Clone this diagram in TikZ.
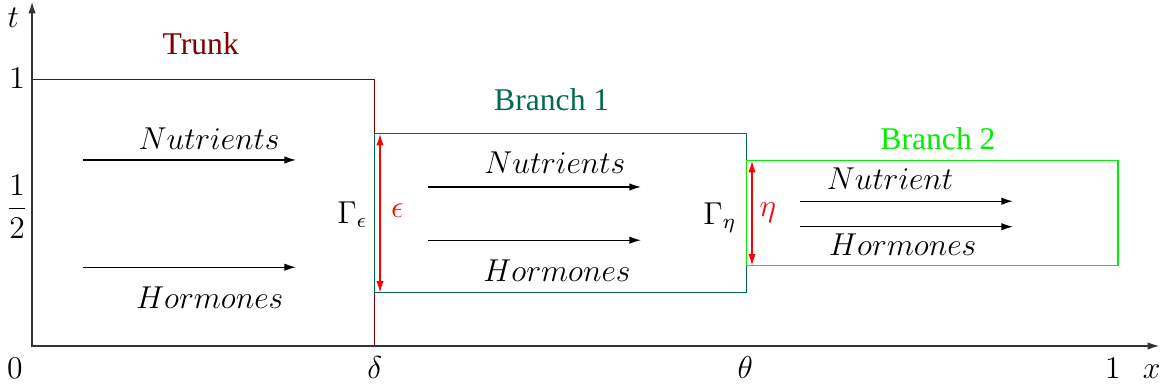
\documentclass[tikz,border=0pt,12pt]{standalone}
\usepackage{amsmath,amssymb}
\usepackage{fontspec}
\setmainfont{Liberation Serif}
\usetikzlibrary{arrows.meta}
\definecolor{trunkcol}{HTML}{800000}
\definecolor{branchonecol}{HTML}{006B4F}
\definecolor{branchtwocol}{HTML}{00F000}
\tikzset{
  region/.style={draw=#1, line width=0.5pt},
  flow/.style={-{Latex[length=4.4pt,width=2.8pt]}, line width=0.5pt, black}}

\begin{document}
\begin{tikzpicture}[
      gap/.style={{Latex[length=4.4pt,width=2.8pt]}-{Latex[length=4.4pt,width=2.8pt]},
        line width=0.6pt, red},
      axis/.style={-{Latex[length=4.4pt,width=2.8pt]}, line width=0.5pt, black!80}]
      \useasboundingbox (-0.427,-0.56) rectangle (15.08,4.613);
      % regions
      \draw[region=trunkcol] (0,0) rectangle (4.57,3.55);
      \draw[region=branchonecol] (4.57,0.71) rectangle (9.53,2.83);
      \draw[region=branchtwocol] (9.53,1.07) rectangle (14.48,2.47);
      % axes
      \coordinate (o) at (0,0);
      \coordinate (xend) at (15.03,0);
      \coordinate (tend) at (0,4.59);
      \draw[axis] (o) -- (xend);
      \draw[axis] (o) -- (tend);
      \node (tl) at (-0.25,4.37) {$t$};
      \node (one) at (-0.2,3.57) {$1$};
      \node (half) at (-0.2,1.86) {$\dfrac{1}{2}$};
      \node[anchor=base] (zero) at (-0.23,-0.43) {$0$};
      \node[anchor=base] (delta) at (4.57,-0.43) {$\delta$};
      \node[anchor=base] (theta) at (9.51,-0.43) {$\theta$};
      \node[anchor=base] (xone) at (14.41,-0.43) {$1$};
      \node[anchor=base] (xl) at (14.93,-0.43) {$x$};
      % titles
      \node[text=trunkcol] (trunk) at (2.25,4.03) {Trunk};
      \node[text=branchonecol] (bone) at (6.93,3.28) {Branch 1};
      \node[text=branchtwocol] (btwo) at (12.08,2.77) {Branch 2};
      % interfaces
      \coordinate (eb) at (4.64,0.71);
      \coordinate (et) at (4.64,2.83);
      \draw[gap] (eb) -- (et);
      \node (ge) at (4.27,1.75) {$\Gamma_\epsilon$};
      \node[text=red] (eps) at (4.87,1.81) {$\epsilon$};
      \coordinate (hb) at (9.6,1.07);
      \coordinate (ht) at (9.6,2.47);
      \draw[gap] (hb) -- (ht);
      \node (gh) at (9.17,1.71) {$\Gamma_\eta$};
      \node[text=red] (eta) at (9.81,1.77) {$\eta$};
      % flows in the trunk
      \coordinate (tna) at (0.68,2.48);
      \coordinate (tnb) at (3.52,2.48);
      \coordinate (tha) at (0.68,1.05);
      \coordinate (thb) at (3.52,1.05);
      \draw[flow] (tna) -- (tnb);
      \draw[flow] (tha) -- (thb);
      \node (tnut) at (2.36,2.77) {$Nutrients$};
      \node (thor) at (2.37,0.65) {$Hormones$};
      % flows in branch 1
      \coordinate (ana) at (5.28,2.12);
      \coordinate (anb) at (8.12,2.12);
      \coordinate (aha) at (5.28,1.41);
      \coordinate (ahb) at (8.12,1.41);
      \draw[flow] (ana) -- (anb);
      \draw[flow] (aha) -- (ahb);
      \node (anut) at (6.97,2.44) {$Nutrients$};
      \node (ahor) at (7.0,1.0) {$Hormones$};
      % flows in branch 2
      \coordinate (bna) at (10.24,1.93);
      \coordinate (bnb) at (13.08,1.93);
      \coordinate (bha) at (10.24,1.59);
      \coordinate (bhb) at (13.08,1.59);
      \draw[flow] (bna) -- (bnb);
      \draw[flow] (bha) -- (bhb);
      \node (bnut) at (11.44,2.23) {$Nutrient$};
      \node (bhor) at (11.61,1.35) {$Hormones$};
    \end{tikzpicture}
\end{document}
